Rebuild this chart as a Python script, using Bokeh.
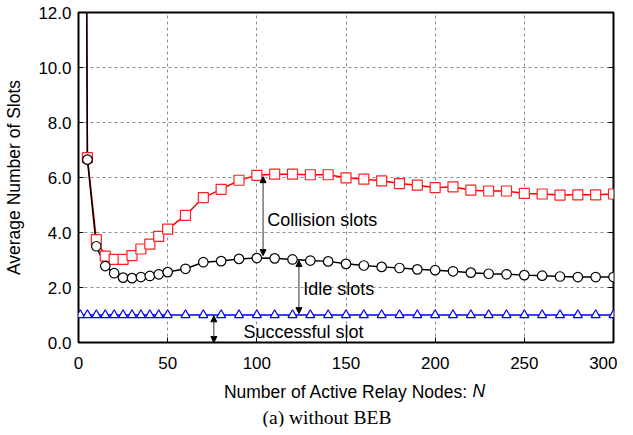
import math
from bokeh.plotting import figure
from bokeh.models import (FixedTicker, PrintfTickFormatter, LinearAxis, Label, Arrow,
                          NormalHead, Range1d, ColumnDataSource, CustomJSTickFormatter, Title)
from bokeh.embed import file_html
from bokeh.resources import INLINE

# ---- data ----
nodes = [1, 5, 10, 15, 20, 25, 30, 35, 40, 45, 50,
         60, 70, 80, 90, 100, 110, 120, 130, 140, 150, 160, 170, 180, 190, 200,
         210, 220, 230, 240, 250, 260, 270, 280, 290, 300]
collision_top = [60.0, 6.72, 3.74, 3.14, 3.02, 3.02, 3.16, 3.40, 3.58, 3.86, 4.12,
                 4.62, 5.27, 5.57, 5.90, 6.08, 6.12, 6.12, 6.10, 6.10, 5.99, 5.94, 5.88, 5.78, 5.72, 5.63,
                 5.66, 5.54, 5.51, 5.51, 5.42, 5.40, 5.36, 5.37, 5.37, 5.40]
idle_top = [60.0, 6.65, 3.50, 2.78, 2.52, 2.36, 2.34, 2.38, 2.42, 2.48, 2.56,
            2.68, 2.92, 2.96, 3.04, 3.07, 3.06, 3.02, 2.98, 2.95, 2.86, 2.80, 2.75, 2.71, 2.66, 2.63,
            2.59, 2.54, 2.50, 2.48, 2.45, 2.43, 2.40, 2.38, 2.38, 2.38]
success = [1.0, 1.0, 1.0, 1.0, 1.0, 1.0, 1.0, 1.0, 1.0, 1.0, 1.0,
           1.0, 1.0, 1.0, 1.0, 1.0, 1.0, 1.0, 1.0, 1.0, 1.0, 1.0, 1.0, 1.0, 1.0, 1.0,
           1.0, 1.0, 1.0, 1.0, 1.0, 1.0, 1.0, 1.0, 1.0, 1.0]
x_ticks = [0, 50, 100, 150, 200, 250, 300]
y_ticks = [0, 2, 4, 6, 8, 10, 12]

# annotation anchors (data units)
collision_arrow = dict(x=103.5, y0=6.03, y1=3.16)
idle_arrow = dict(x=123.6, y0=2.98, y1=1.05)
success_arrow = dict(x=75.9, y0=0.97, y1=0.0)
collision_text = dict(x=105.8, y=4.44, text="Collision slots")
idle_text = dict(x=126.0, y=1.94, text="Idle slots")
success_text = dict(x=92.5, y=0.40, text="Successful slot")
x_title = "Number of Active Relay Nodes:"
x_title_var = "N"
x_title_var_pos = 224.5

FONT = "Liberation Sans"

src = ColumnDataSource(dict(x=nodes, c=collision_top, i=idle_top, s=success))

p = figure(width=617, height=427, output_backend="svg", toolbar_location=None,
           x_range=Range1d(0, 300), y_range=Range1d(0, 12),
           min_border_left=78, min_border_right=4, min_border_top=12, min_border_bottom=84)
p.background_fill_color = "white"
p.border_fill_color = "white"
p.outline_line_color = "black"
p.outline_line_width = 2

# axes
for ax in (p.xaxis[0], p.yaxis[0]):
    ax.axis_line_color = None
    ax.major_tick_in = 5
    ax.major_tick_out = 0
    ax.minor_tick_line_color = None
    ax.major_tick_line_color = "black"
    ax.major_label_text_font = FONT
    ax.major_label_text_font_size = "17px"
    ax.major_label_text_color = "black"
    ax.axis_label_text_font = FONT
    ax.axis_label_text_font_size = "17.5px"
    ax.axis_label_text_font_style = "normal"
    ax.axis_label_text_color = "black"
p.xaxis.ticker = FixedTicker(ticks=x_ticks)
p.yaxis.ticker = FixedTicker(ticks=y_ticks)
p.yaxis.formatter = PrintfTickFormatter(format="%.1f")
p.xaxis.major_label_standoff = 14
p.yaxis.major_label_standoff = 7
p.yaxis.axis_label = "Average Number of Slots"
p.yaxis.axis_label_standoff = 11
p.xaxis.axis_label = x_title
p.xaxis.axis_label_standoff = 10

right = LinearAxis(ticker=FixedTicker(ticks=y_ticks),
                   formatter=CustomJSTickFormatter(code="return ''"),
                   axis_line_color=None, major_tick_in=5, major_tick_out=0,
                   minor_tick_line_color=None, major_label_standoff=0)
p.add_layout(right, "right")

# italic "N" of the x-axis title, as a tick label of a bare axis pulled up beside the title
var_axis = LinearAxis(ticker=FixedTicker(ticks=[x_title_var_pos]),
                      major_label_overrides={x_title_var_pos: x_title_var},
                      axis_line_color=None, major_tick_line_color=None,
                      minor_tick_line_color=None, major_tick_in=0, major_tick_out=0,
                      major_label_text_font=FONT, major_label_text_font_style="italic",
                      major_label_text_font_size="17.5px", major_label_text_color="black",
                      major_label_standoff=-24)
p.add_layout(var_axis, "below")

p.add_layout(Title(text="(a) without BEB", text_font="Liberation Serif",
                   text_font_size="19.5px", text_font_style="normal", text_color="black",
                   align="left", offset=184, standoff=0), "below")

p.xgrid.ticker = FixedTicker(ticks=x_ticks)
p.ygrid.ticker = FixedTicker(ticks=y_ticks)
for g in (p.xgrid[0], p.ygrid[0]):
    g.grid_line_color = "#8c8c8c"
    g.grid_line_dash = "3 3"
    g.grid_line_width = 1

# series
p.line("x", "c", source=src, line_color="#ff0000", line_width=1.5)
p.line("x", "i", source=src, line_color="black", line_width=1.5)
p.line("x", "s", source=src, line_color="#0000ff", line_width=1.5)
p.scatter("x", "c", source=src, marker="square", size=10, fill_color="white",
          line_color="#ff2020", line_width=1.2)
p.scatter("x", "i", source=src, marker="circle", size=9.5, fill_color="white",
          line_color="black", line_width=1.2)
p.scatter("x", "s", source=src, marker="triangle", size=9, fill_color="white",
          line_color="#0000ff", line_width=1.2)

# arrows
for a in (collision_arrow, idle_arrow, success_arrow):
    p.add_layout(Arrow(x_start=a["x"], y_start=a["y0"], x_end=a["x"], y_end=a["y1"],
                       line_color="#333333", line_width=1,
                       start=NormalHead(size=6, fill_color="black", line_color="black"),
                       end=NormalHead(size=6, fill_color="black", line_color="black")))

for t in (collision_text, idle_text, success_text):
    p.add_layout(Label(x=t["x"], y=t["y"], text=t["text"], text_font=FONT,
                       text_font_size="18px", text_baseline="middle", text_align="left",
                       text_color="black"))

open("out.html", "w").write(file_html(p, INLINE))
